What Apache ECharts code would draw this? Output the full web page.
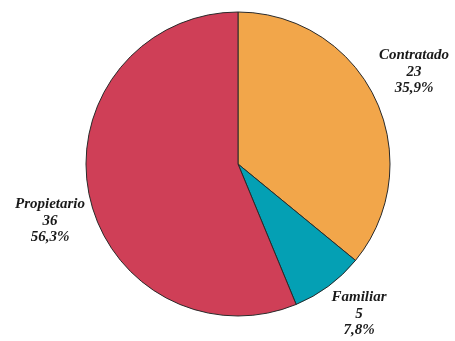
<!DOCTYPE html>
<html>
<head>
<meta charset="utf-8">
<script src="https://cdn.jsdelivr.net/npm/echarts@6/dist/echarts.min.js"></script>
<style>
  html, body { margin: 0; padding: 0; background: #ffffff; }
  #chart { width: 455px; height: 341px; }
</style>
</head>
<body>
<div id="chart"></div>
<script>
// Tenencia: categories, counts and slice colours
const categories = ['Contratado', 'Familiar', 'Propietario'];
const counts = [23, 5, 36];
const colors = ['#F2A64A', '#04A0B4', '#CF3F57'];

// Label anchor points (centre of each text block), in pixels
const labelPos = [[414, 72], [359, 314], [50, 221]];

const total = counts.reduce((a, b) => a + b, 0);
const pieData = categories.map((name, i) => ({
  name: name,
  value: counts[i],
  itemStyle: { color: colors[i] }
}));

const chart = echarts.init(document.getElementById('chart'), null, { renderer: 'canvas' });
chart.setOption({
  animation: false,
  backgroundColor: '#ffffff',
  series: [{
    type: 'pie',
    center: [238, 164],
    radius: [0, 152],
    startAngle: 90,
    clockwise: true,
    data: pieData,
    itemStyle: { borderColor: '#2a2a2a', borderWidth: 1 },
    label: {
      show: true,
      position: 'outside',
      formatter: p => p.name + '\n' + p.value + '\n' +
        (p.value / total * 100).toFixed(1).replace('.', ',') + '%',
      fontFamily: '"Liberation Serif", "Times New Roman", serif',
      fontStyle: 'italic',
      fontWeight: 'bold',
      fontSize: 15,
      lineHeight: 16.5,
      color: '#1a1a1a',
      align: 'center',
      overflow: 'none',
      width: 120
    },
    labelLine: { show: false },
    labelLayout: p => ({
      x: labelPos[p.dataIndex][0],
      y: labelPos[p.dataIndex][1],
      align: 'center',
      verticalAlign: 'middle'
    }),
    emphasis: { disabled: true }
  }]
});
</script>
</body>
</html>
